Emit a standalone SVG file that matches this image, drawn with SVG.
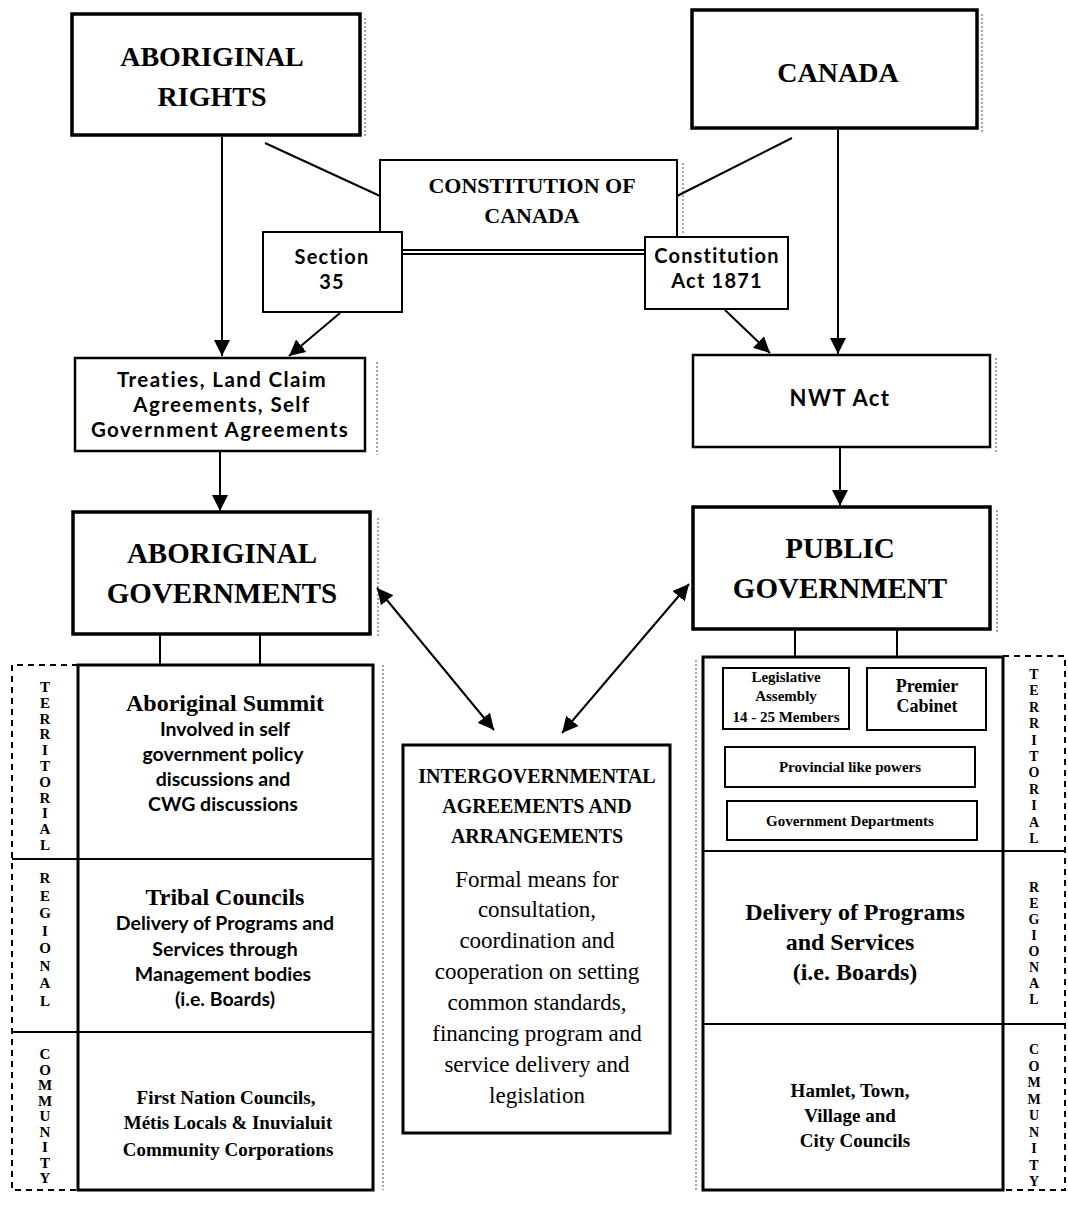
<svg xmlns="http://www.w3.org/2000/svg" width="1068" height="1219" viewBox="0 0 1068 1219">
<defs>
<marker id="ah" viewBox="0 0 10 10" refX="10" refY="5" markerWidth="16" markerHeight="16" markerUnits="userSpaceOnUse" orient="auto-start-reverse">
<path d="M0,0 L10,5 L0,10 z" fill="#000"/>
</marker>
<style>
.box{fill:#fff;stroke:#000;stroke-width:2}
.thick{fill:#fff;stroke:#000;stroke-width:3.5}
.col{fill:none;stroke:#000;stroke-width:3}
.dash{fill:none;stroke:#000;stroke-width:2;stroke-dasharray:6 5}
.shadow{fill:none;stroke:#888;stroke-width:1.5;stroke-dasharray:2 2}
.ln{fill:none;stroke:#000;stroke-width:2}
.arr{fill:none;stroke:#000;stroke-width:2;marker-end:url(#ah)}
.dbl{fill:none;stroke:#000;stroke-width:2;marker-start:url(#ah);marker-end:url(#ah)}
text{fill:#000;text-anchor:middle}
.h1{font-family:"Liberation Serif",serif;font-weight:bold;font-size:28px}
.h2{font-family:"Liberation Serif",serif;font-weight:bold;font-size:22px}
.gs{font-family:Lato,"Liberation Sans",sans-serif;font-weight:bold;font-size:20px;letter-spacing:1.2px}
.tr{font-family:Lato,"Liberation Sans",sans-serif;font-weight:bold;font-size:20.5px;letter-spacing:1.4px}
.gsr{font-family:Lato,"Liberation Sans",sans-serif;font-weight:bold;font-size:19.5px}
.st{font-family:"Liberation Serif",serif;font-weight:bold;font-size:24px}
.sb{font-family:"Liberation Serif",serif;font-weight:bold;font-size:19px}
.body{font-family:"Liberation Serif",serif;font-size:23px}
.ig{font-family:"Liberation Serif",serif;font-weight:bold;font-size:20px}
.sm{font-family:"Liberation Serif",serif;font-weight:bold;font-size:15px}
.lbl{font-family:"Liberation Serif",serif;font-weight:bold;font-size:15px}
</style>
</defs>
<rect width="1068" height="1219" fill="#fff"/>

<g id="shadows">
<path class="shadow" d="M365,18 V138 M982,14 V133 M683,163 V233 M377,362 V455 M996,358 V452 M378,518 V637 M997,510 V632 M383,665 V1190 M696,660 V1190"/>
</g>

<g id="connectors">
<line class="arr" x1="222" y1="137" x2="222" y2="356"/>
<line class="arr" x1="838" y1="130" x2="838" y2="354"/>
<line class="ln" x1="265" y1="143" x2="380" y2="196"/>
<line class="ln" x1="792" y1="138" x2="677" y2="196"/>
<line class="arr" x1="340" y1="313" x2="289" y2="356"/>
<line class="arr" x1="725" y1="310" x2="770" y2="353"/>
<line class="arr" x1="220" y1="452" x2="220" y2="511"/>
<line class="arr" x1="840" y1="448" x2="840" y2="506"/>
<line class="dbl" x1="377" y1="588" x2="494" y2="730"/>
<line class="dbl" x1="689" y1="584" x2="562" y2="733"/>
<line class="ln" x1="160" y1="634" x2="160" y2="665"/>
<line class="ln" x1="260" y1="634" x2="260" y2="665"/>
<line class="ln" x1="795" y1="629" x2="795" y2="658"/>
<line class="ln" x1="897" y1="629" x2="897" y2="658"/>
</g>

<g id="aboriginal-rights">
<rect class="thick" x="72" y="14" width="288" height="121"/>
<text class="h1" x="212" y="66">ABORIGINAL</text>
<text class="h1" x="212" y="106">RIGHTS</text>
</g>

<g id="canada">
<rect class="thick" x="692" y="10" width="285" height="118"/>
<text class="h1" x="838" y="82">CANADA</text>
</g>

<g id="constitution">
<rect class="box" x="380" y="160" width="297" height="90"/>
<line class="ln" x1="402" y1="254" x2="645" y2="254"/>
<text class="h2" x="532" y="193">CONSTITUTION OF</text>
<text class="h2" x="532" y="223">CANADA</text>
</g>

<g id="section35">
<rect class="box" x="263" y="232" width="139" height="80"/>
<text class="gs" x="332" y="264">Section</text>
<text class="gs" x="332" y="289">35</text>
</g>

<g id="constitution-act">
<rect class="box" x="645" y="237" width="143" height="72"/>
<text class="gs" x="717" y="263">Constitution</text>
<text class="gs" x="717" y="288">Act 1871</text>
</g>

<g id="treaties">
<rect class="box" x="75" y="358" width="290" height="93" style="stroke-width:2.5"/>
<text class="tr" x="222" y="387">Treaties, Land Claim</text>
<text class="tr" x="222" y="412">Agreements, Self</text>
<text class="tr" x="220" y="437">Government Agreements</text>
</g>

<g id="nwt-act">
<rect class="box" x="693" y="355" width="297" height="92" style="stroke-width:2.5"/>
<text class="tr" x="840" y="406" style="font-size:22px">NWT Act</text>
</g>

<g id="aboriginal-governments">
<rect class="thick" x="73" y="512" width="297" height="122"/>
<text class="h1" x="222" y="563" style="font-size:29px">ABORIGINAL</text>
<text class="h1" x="222" y="603" style="font-size:29px">GOVERNMENTS</text>
</g>

<g id="public-government">
<rect class="thick" x="693" y="507" width="297" height="122"/>
<text class="h1" x="840" y="558" style="font-size:29px">PUBLIC</text>
<text class="h1" x="840" y="598" style="font-size:29px">GOVERNMENT</text>
</g>

<g id="aboriginal-levels">
<path class="dash" d="M78,665 H12 V1190 H78"/>
<rect class="col" x="78" y="665" width="295" height="525"/>
<line class="ln" x1="12" y1="859" x2="373" y2="859"/>
<line class="ln" x1="12" y1="1032" x2="373" y2="1032"/>
<text class="lbl"><tspan x="45" y="692">T</tspan><tspan x="45" dy="15.8">E</tspan><tspan x="45" dy="15.8">R</tspan><tspan x="45" dy="15.8">R</tspan><tspan x="45" dy="15.8">I</tspan><tspan x="45" dy="15.8">T</tspan><tspan x="45" dy="15.8">O</tspan><tspan x="45" dy="15.8">R</tspan><tspan x="45" dy="15.8">I</tspan><tspan x="45" dy="15.8">A</tspan><tspan x="45" dy="15.8">L</tspan></text>
<text class="lbl"><tspan x="45" y="883">R</tspan><tspan x="45" dy="17.5">E</tspan><tspan x="45" dy="17.5">G</tspan><tspan x="45" dy="17.5">I</tspan><tspan x="45" dy="17.5">O</tspan><tspan x="45" dy="17.5">N</tspan><tspan x="45" dy="17.5">A</tspan><tspan x="45" dy="17.5">L</tspan></text>
<text class="lbl"><tspan x="45" y="1059">C</tspan><tspan x="45" dy="15.5">O</tspan><tspan x="45" dy="15.5">M</tspan><tspan x="45" dy="15.5">M</tspan><tspan x="45" dy="15.5">U</tspan><tspan x="45" dy="15.5">N</tspan><tspan x="45" dy="15.5">I</tspan><tspan x="45" dy="15.5">T</tspan><tspan x="45" dy="15.5">Y</tspan></text>
<text class="st" x="225" y="711">Aboriginal Summit</text>
<text class="gsr" x="225" y="736">Involved in self</text>
<text class="gsr" x="223" y="761">government policy</text>
<text class="gsr" x="223" y="786">discussions and</text>
<text class="gsr" x="223" y="811">CWG discussions</text>
<text class="st" x="225" y="905">Tribal Councils</text>
<text class="gsr" x="225" y="930">Delivery of Programs and</text>
<text class="gsr" x="225" y="956">Services through</text>
<text class="gsr" x="223" y="981">Management bodies</text>
<text class="gsr" x="225" y="1006">(i.e. Boards)</text>
<text class="sb" x="226" y="1104">First Nation Councils,</text>
<text class="sb" x="228" y="1129">Métis Locals &amp; Inuvialuit</text>
<text class="sb" x="228" y="1156">Community Corporations</text>
</g>

<g id="intergovernmental">
<rect class="col" x="403" y="745" width="267" height="388"/>
<text class="ig" x="537" y="783">INTERGOVERNMENTAL</text>
<text class="ig" x="537" y="813">AGREEMENTS AND</text>
<text class="ig" x="537" y="843">ARRANGEMENTS</text>
<text class="body" x="537" y="887">Formal means for</text>
<text class="body" x="537" y="917">consultation,</text>
<text class="body" x="537" y="948">coordination and</text>
<text class="body" x="537" y="979">cooperation on setting</text>
<text class="body" x="537" y="1010">common standards,</text>
<text class="body" x="537" y="1041">financing program and</text>
<text class="body" x="537" y="1072">service delivery and</text>
<text class="body" x="537" y="1103">legislation</text>
</g>

<g id="public-levels">
<path class="dash" d="M1003,656 H1065 V1190 H1003"/>
<rect class="col" x="703" y="657" width="300" height="533"/>
<line class="ln" x1="703" y1="851" x2="1065" y2="851"/>
<line class="ln" x1="703" y1="1024" x2="1065" y2="1024"/>
<text class="lbl" style="font-size:14px"><tspan x="1034" y="679">T</tspan><tspan x="1034" dy="16.4">E</tspan><tspan x="1034" dy="16.4">R</tspan><tspan x="1034" dy="16.4">R</tspan><tspan x="1034" dy="16.4">I</tspan><tspan x="1034" dy="16.4">T</tspan><tspan x="1034" dy="16.4">O</tspan><tspan x="1034" dy="16.4">R</tspan><tspan x="1034" dy="16.4">I</tspan><tspan x="1034" dy="16.4">A</tspan><tspan x="1034" dy="16.4">L</tspan></text>
<text class="lbl" style="font-size:14px"><tspan x="1034" y="892">R</tspan><tspan x="1034" dy="16">E</tspan><tspan x="1034" dy="16">G</tspan><tspan x="1034" dy="16">I</tspan><tspan x="1034" dy="16">O</tspan><tspan x="1034" dy="16">N</tspan><tspan x="1034" dy="16">A</tspan><tspan x="1034" dy="16">L</tspan></text>
<text class="lbl" style="font-size:14px"><tspan x="1034" y="1054">C</tspan><tspan x="1034" dy="16.5">O</tspan><tspan x="1034" dy="16.5">M</tspan><tspan x="1034" dy="16.5">M</tspan><tspan x="1034" dy="16.5">U</tspan><tspan x="1034" dy="16.5">N</tspan><tspan x="1034" dy="16.5">I</tspan><tspan x="1034" dy="16.5">T</tspan><tspan x="1034" dy="16.5">Y</tspan></text>
<rect class="box" x="723" y="668" width="126" height="61"/>
<text class="sm" x="786" y="682">Legislative</text>
<text class="sm" x="786" y="701">Assembly</text>
<text class="sm" x="786" y="722">14 - 25 Members</text>
<rect class="box" x="867" y="668" width="119" height="62"/>
<text class="sb" x="927" y="692" style="font-size:18px">Premier</text>
<text class="sb" x="927" y="712" style="font-size:18px">Cabinet</text>
<rect class="box" x="725" y="747" width="250" height="40"/>
<text class="sm" x="850" y="772">Provincial like powers</text>
<rect class="box" x="727" y="801" width="250" height="39"/>
<text class="sm" x="850" y="826">Government Departments</text>
<text class="st" x="855" y="920">Delivery of Programs</text>
<text class="st" x="850" y="950">and Services</text>
<text class="st" x="855" y="980">(i.e. Boards)</text>
<text class="sb" x="850" y="1097">Hamlet, Town,</text>
<text class="sb" x="850" y="1122">Village and</text>
<text class="sb" x="855" y="1147">City Councils</text>
</g>
</svg>
